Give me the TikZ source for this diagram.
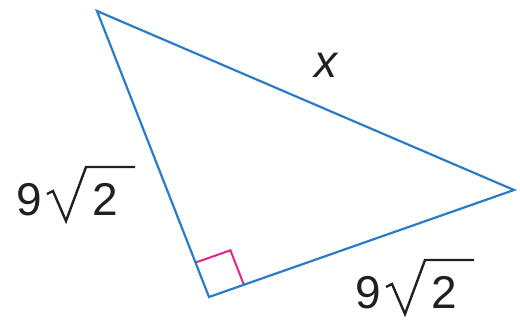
\documentclass[tikz,border=0pt]{standalone}
\usepackage{fontspec}
\setmainfont{Liberation Sans}
\usetikzlibrary{calc}
\definecolor{edgeblue}{HTML}{2A7BC8}
\definecolor{rightmag}{HTML}{E5238C}
\definecolor{labelink}{HTML}{231F20}
\tikzset{
  edge/.style={draw=edgeblue, line width=2.2bp, line join=miter},
  mark90/.style={draw=rightmag, line width=2bp},
  lbl/.style={inner sep=0pt, text=labelink, font=\fontsize{46bp}{55bp}\selectfont},
  radical/.style={draw=labelink, line width=2.4bp, line join=miter, line cap=butt}
}
\newcommand{\nineroottwo}[2]{%
  \begin{scope}[shift={#2}]
    \node[lbl, anchor=base west] (#1nine) at (0,0) {9};
    \node[lbl, anchor=base west] (#1two) at (76,0) {2};
    \draw[radical] (31,-21) -- (37,-24) -- (50,6) -- (70,-48) -- (119,-48);
  \end{scope}}
\begin{document}
\begin{tikzpicture}[x=1bp,y=-1bp]
\useasboundingbox (0,0) rectangle (520,321);
\coordinate (T) at (97,11);
\coordinate (R) at (514,190);
\coordinate (B) at (209,297);
\coordinate (m1) at ($(B)!37bp!(T)$);
\coordinate (m2) at ($(B)!37bp!(R)$);
\coordinate (m3) at ($(m1)+(m2)-(B)$);
\draw[mark90] (m1) -- (m3) -- (m2);
\draw[edge] (T) -- (R) -- (B) -- cycle;
\nineroottwo{left}{(16,215)}
\nineroottwo{bottom}{(355,308)}
\node[lbl, anchor=base] (hyp) at (326,77) {\itshape x};
\end{tikzpicture}
\end{document}
